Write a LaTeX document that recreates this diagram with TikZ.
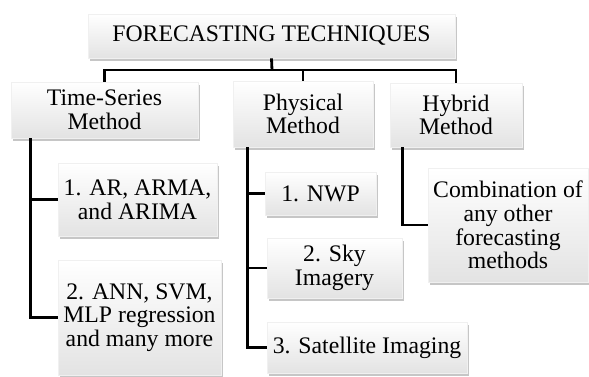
\documentclass[tikz,border=0pt]{standalone}
\usepackage{fontspec}
\setmainfont{Liberation Serif}
\usetikzlibrary{shadows}
\tikzset{
    tbox/.style={rectangle, top color=white, bottom color=gray!22, draw=gray!12,
        drop shadow={shadow xshift=1.2pt, shadow yshift=-1.6pt, opacity=0.45, fill=gray},
        align=center, inner sep=1pt, font=\fontsize{13.5}{13.5}\selectfont},
    link/.style={line width=1.6pt}
}
\begin{document}
\begin{tikzpicture}[x=0.02cm, y=-0.02cm]
    \useasboundingbox (0,0) rectangle (589,377);
    \node[tbox, minimum width=367*0.02cm, minimum height=44*0.02cm] (top) at (271.5,36) {FORECASTING TECHNIQUES};
    \node[tbox, minimum width=187*0.02cm, minimum height=56*0.02cm] (ts) at (104.5,110) {Time-Series\\Method};
    \node[tbox, minimum width=140*0.02cm, minimum height=66*0.02cm] (phys) at (303,114) {Physical\\Method};
    \node[tbox, minimum width=132*0.02cm, minimum height=64*0.02cm] (hyb) at (456,115) {Hybrid\\Method};
    \node[tbox, minimum width=159*0.02cm, minimum height=73*0.02cm] (ar) at (137.5,199.5) {1. AR, ARMA,\\and ARIMA};
    \node[tbox, minimum width=163*0.02cm, minimum height=115*0.02cm] (ann) at (139.5,317.5) {2. ANN, SVM,\\MLP regression\\and many more};
    \node[tbox, minimum width=111*0.02cm, minimum height=43*0.02cm] (nwp) at (320.5,193.5) {1. NWP};
    \node[tbox, minimum width=135*0.02cm, minimum height=60*0.02cm] (sky) at (334.5,268) {2. Sky\\Imagery};
    \node[tbox, minimum width=200*0.02cm, minimum height=51*0.02cm] (sat) at (367,347.5) {3. Satellite Imaging};
    \node[tbox, minimum width=160*0.02cm, minimum height=114*0.02cm] (comb) at (508,225) {Combination of\\any other\\forecasting\\methods};
    \coordinate (bus) at (272,70);
    \draw[link] (top.south) -- (bus);
    \draw[link] (ts.north) |- (bus) -| (hyb.north);
    \draw[link] (phys.north) -- (phys.north |- bus);
    \draw[link] ([xshift=0.4cm]ts.south west) |- (ar.west);
    \draw[link] ([xshift=0.4cm]ts.south west) |- (ann.west);
    \draw[link] ([xshift=0.3cm]phys.south west) |- (nwp.west);
    \draw[link] ([xshift=0.3cm]phys.south west) |- (sky.west);
    \draw[link] ([xshift=0.3cm]phys.south west) |- (sat.west);
    \draw[link] ([xshift=0.26cm]hyb.south west) |- (comb.west);
\end{tikzpicture}
\end{document}
